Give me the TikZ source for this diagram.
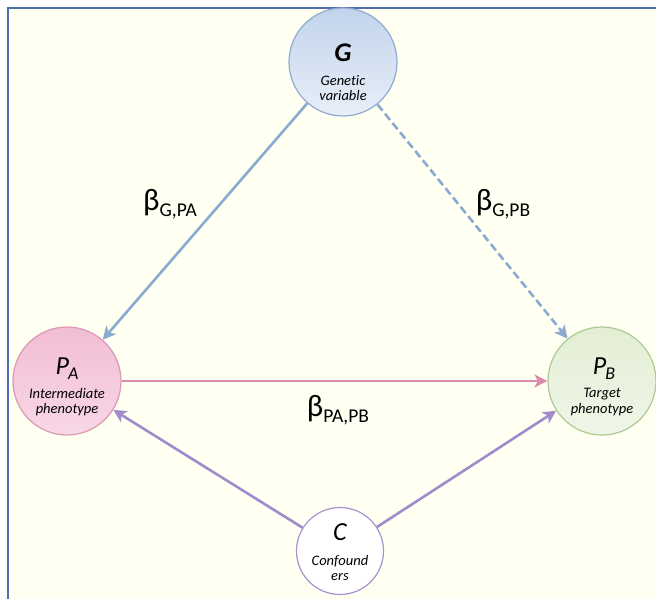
\documentclass[tikz,border=0pt]{standalone}
\usepackage{fontspec}
\setmainfont{Carlito}[Ligatures=NoCommon]
\usetikzlibrary{arrows.meta}
\definecolor{bgcol}{HTML}{FFFFF2}
\definecolor{framecol}{HTML}{4F6EAD}
\definecolor{bluel}{HTML}{8AAAD2}
\definecolor{pinkl}{HTML}{D98DAC}
\definecolor{purpl}{HTML}{A08BCB}
\definecolor{gtop}{HTML}{C2D4EC}
\definecolor{gbot}{HTML}{E8EFF8}
\definecolor{gdraw}{HTML}{8FABD1}
\definecolor{atop}{HTML}{F2BDD3}
\definecolor{abot}{HTML}{F8D8E6}
\definecolor{adraw}{HTML}{DB98B4}
\definecolor{btop}{HTML}{E3EED4}
\definecolor{bbot}{HTML}{F0F6E8}
\definecolor{bdraw}{HTML}{AECA93}
\definecolor{cdraw}{HTML}{A792CF}
\tikzset{
  varnode/.style={circle, line width=1.2pt, inner sep=0pt},
  bigletter/.style={font=\fontsize{26}{30}\selectfont\itshape, inner sep=0pt},
  smalltext/.style={font=\fontsize{14.5}{15.5}\selectfont\itshape, align=center, inner sep=0pt},
  betalabel/.style={inner sep=0pt},
  conn/.style={line width=2.6pt, -{Stealth[length=13pt,width=13pt,inset=3.5pt]}},
}
\newcommand{\betalab}[1]{{\fontsize{31}{34}\selectfont β}{\fontsize{19.5}{21}\selectfont\raisebox{-6pt}{#1}}}
\begin{document}
\begin{tikzpicture}[x=1pt,y=-1pt]
\useasboundingbox (0,0) rectangle (656,599);
\fill[white] (0,0) rectangle (656,599);
\fill[bgcol] (8,8) rectangle (656,599);
\draw[framecol, line width=2.2pt] (8,599) -- (8,8) -- (656,8);

% circles
\node[varnode, minimum size=108pt, draw=gdraw, top color=gtop, bottom color=gbot] (G) at (343,62) {};
\node[varnode, minimum size=108pt, draw=adraw, top color=atop, bottom color=abot] (PA) at (67,381) {};
\node[varnode, minimum size=108pt, draw=bdraw, top color=btop, bottom color=bbot] (PB) at (602,381) {};
\node[varnode, minimum size=87pt, draw=cdraw, fill=white] (C) at (340,551) {};

% texts in circles
\node[bigletter, font=\fontsize{27}{30}\selectfont\bfseries\itshape] (Gl) at (343,53) {G};
\node[smalltext] (Gt) at (343,88) {Genetic\\variable};
\node[bigletter] (PAl) at (67,369) {P\kern-1pt{\fontsize{18}{18}\selectfont\raisebox{-5pt}{A}}};
\node[smalltext] (PAt) at (67,402) {Intermediate\\phenotype};
\node[bigletter] (PBl) at (604,369) {P\kern-1pt{\fontsize{18}{18}\selectfont\raisebox{-5pt}{B}}};
\node[smalltext] (PBt) at (602,402) {Target\\phenotype};
\node[bigletter] (Cl) at (340,532) {C};
\node[smalltext] (Ct) at (340,568) {Confound\\ers};

% connectors
\draw[conn, bluel] (G) -- (PA);
\draw[conn, bluel, dash pattern=on 8pt off 4pt] (G) -- (PB);
\draw[conn, pinkl] (PA) -- (PB);
\draw[conn, purpl] (C) -- (PA);
\draw[conn, purpl] (C) -- (PB);

% labels
\node[betalabel] (bGPA) at (170,204) {\betalab{G,PA}};
\node[betalabel] (bGPB) at (503,204) {\betalab{G,PB}};
\node[betalabel] (bPAPB) at (338,410) {\betalab{PA,PB}};
\end{tikzpicture}
\end{document}
